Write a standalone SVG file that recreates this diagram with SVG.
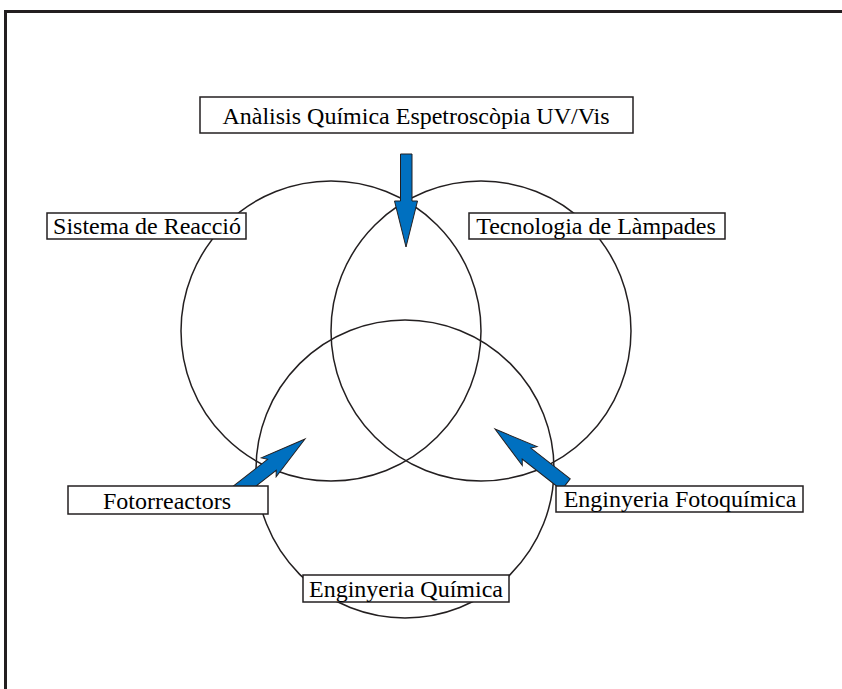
<svg xmlns="http://www.w3.org/2000/svg" width="842" height="689" viewBox="0 0 842 689">
  <style>
    .frame { stroke: #231f20; stroke-width: 3; fill: none; }
    .circle { fill: none; stroke: #231f20; stroke-width: 1.5; }
    .box { fill: #ffffff; stroke: #231f20; stroke-width: 1.5; }
    .label { font-family: "Liberation Serif", "Times New Roman", serif; font-size: 24px; fill: #000000; text-anchor: middle; }
    .arrow { fill: #0070c0; stroke: #231f20; stroke-width: 1; stroke-linejoin: miter; }
  </style>
  <rect x="0" y="0" width="842" height="689" fill="#ffffff"/>
  <g id="frame">
    <line class="frame" x1="4" y1="11.5" x2="842" y2="11.5"/>
    <line class="frame" x1="5.5" y1="10" x2="5.5" y2="689"/>
  </g>
  <g id="circles">
    <circle class="circle" cx="331" cy="331" r="150"/>
    <circle class="circle" cx="481" cy="331" r="150"/>
    <circle class="circle" cx="405" cy="469" r="149"/>
  </g>
  <g id="connectors">
    <polygon class="arrow" points="400.5,154 412,154 412,201 417.5,201 406,247 394.5,201 400.5,201"/>
    <polygon class="arrow" transform="translate(305,439) rotate(-38)" points="0,0 -46,12 -42,7 -90,7 -90,-7 -42,-7 -46,-12"/>
    <polygon class="arrow" transform="translate(495,429) rotate(-142)" points="0,0 -44,12 -40,7 -90,7 -90,-7 -40,-7 -44,-12"/>
  </g>
  <g id="node-analisis">
    <rect class="box" x="200" y="97" width="433" height="36"/>
    <text class="label" x="416" y="124">Anàlisis Química Espetroscòpia UV/Vis</text>
  </g>
  <g id="node-sistema">
    <rect class="box" x="47" y="213" width="199" height="26"/>
    <text class="label" x="147" y="234">Sistema de Reacció</text>
  </g>
  <g id="node-tecnologia">
    <rect class="box" x="469" y="213" width="256" height="26"/>
    <text class="label" x="596" y="234">Tecnologia de Làmpades</text>
  </g>
  <g id="node-fotorreactors">
    <rect class="box" x="68" y="486" width="200" height="28"/>
    <text class="label" x="167" y="509">Fotorreactors</text>
  </g>
  <g id="node-fotoquimica">
    <rect class="box" x="556" y="486" width="247" height="26"/>
    <text class="label" x="680" y="507">Enginyeria Fotoquímica</text>
  </g>
  <g id="node-quimica">
    <rect class="box" x="303" y="575" width="206" height="27"/>
    <text class="label" x="406" y="597">Enginyeria Química</text>
  </g>
</svg>
